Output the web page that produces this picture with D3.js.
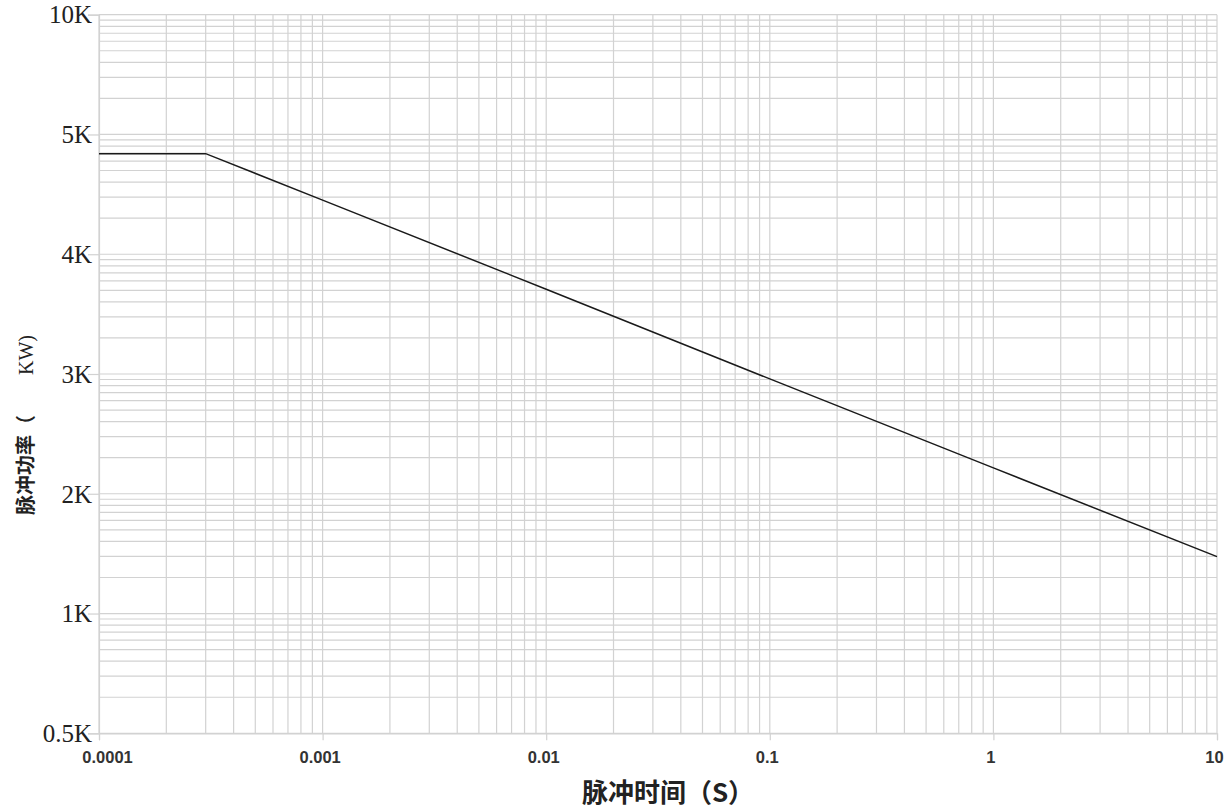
<!DOCTYPE html>
<html><head><meta charset="utf-8">
<script src="https://cdn.jsdelivr.net/npm/d3@7"></script>
<style>
html,body{margin:0;padding:0;background:#fff;}
svg{display:block;}
</style></head>
<body>
<svg id="chart" width="1226" height="808"></svg>
<script>
// Data
const xTicks = [0.0001, 0.001, 0.01, 0.1, 1, 10];
const xTickLabels = ["0.0001", "0.001", "0.01", "0.1", "1", "10"];
const yTicks = [500, 1000, 2000, 3000, 4000, 5000, 10000];
const yTickLabels = ["0.5K", "1K", "2K", "3K", "4K", "5K", "10K"];
const pulseTime = [0.0001, 0.0003, 0.001, 0.01, 0.1, 1, 10];
const pulsePower = [4840, 4840, 4452, 3708, 2959, 2216, 1475];
const xTitle = "脉冲时间（S）";
const yTitleCJK = "脉冲功率（　　";
const yTitleUnit = "KW)";

(function () {
const svg = d3.select("#chart");
const mLeft = 99, mRight = 1217, mTop = 14.7, mBottom = 733.3;

const x = d3.scaleLog().domain([0.0001, 10]).range([mLeft, mRight]);
const bandH = (mBottom - mTop) / (yTicks.length - 1);
const y = d3.scaleLinear().domain(yTicks).range(yTicks.map((d, i) => mBottom - i * bandH));

const gridColor = "#d2d2d2";
const g = svg.append("g");

// x minor + major gridlines
const xGrid = [];
for (let e = -4; e < 1; e++) for (let k = 1; k <= 9; k++) xGrid.push(k * Math.pow(10, e));
xGrid.push(10);
g.selectAll("line.xg").data(xGrid).join("line")
  .attr("x1", d => x(d)).attr("x2", d => x(d))
  .attr("y1", mTop).attr("y2", mBottom)
  .attr("stroke", gridColor).attr("stroke-width", 1.2);

// y gridlines: each band subdivided like a log decade
const yGrid = [];
for (let i = 0; i < yTicks.length - 1; i++) {
  const v0 = yTicks[i], v1 = yTicks[i + 1];
  yGrid.push(v0);
  for (let k = 2; k <= 9; k++) yGrid.push(v0 + Math.log10(k) * (v1 - v0));
}
yGrid.push(yTicks[yTicks.length - 1]);
g.selectAll("line.yg").data(yGrid).join("line")
  .attr("x1", mLeft).attr("x2", mRight)
  .attr("y1", d => y(d)).attr("y2", d => y(d))
  .attr("stroke", gridColor).attr("stroke-width", 1.2);

// axes
const xAxis = d3.axisBottom(x).tickValues(xTicks).tickSize(7).tickFormat((d, i) => xTickLabels[i]).tickPadding(11);
const xa = svg.append("g").attr("transform", `translate(0,${mBottom})`).call(xAxis);
xa.select(".domain").attr("stroke", gridColor).attr("stroke-width", 1.2);
xa.selectAll(".tick line").attr("stroke", gridColor).attr("stroke-width", 1.2);
xa.selectAll(".tick text")
  .attr("font-family", "'Liberation Sans', Arial, sans-serif")
  .attr("font-weight", "bold").attr("font-size", 16.5).attr("fill", "#333")
  .attr("dx", (d, i) => i === 0 ? 8 : -3);

const yAxis = d3.axisLeft(y).tickValues(yTicks).tickSize(11).tickFormat((d, i) => yTickLabels[i]).tickPadding(-4);
const ya = svg.append("g").attr("transform", `translate(${mLeft},0)`).call(yAxis);
ya.select(".domain").attr("stroke", gridColor).attr("stroke-width", 1.2);
ya.selectAll(".tick line").attr("stroke", gridColor).attr("stroke-width", 1.2);
ya.selectAll(".tick text")
  .attr("font-family", "'Liberation Serif', 'Times New Roman', serif")
  .attr("font-size", 25).attr("fill", "#222").attr("dy", "0.33em");

// line
const line = d3.line().x((d, i) => x(pulseTime[i])).y(d => y(d));
svg.append("path").datum(pulsePower)
  .attr("d", line).attr("fill", "none")
  .attr("stroke", "#1a1a1a").attr("stroke-width", 1.5);

// titles
svg.append("text").attr("x", 668).attr("y", 802)
  .attr("text-anchor", "middle")
  .attr("font-family", "'Noto Sans CJK SC', sans-serif").attr("font-weight", "bold")
  .attr("font-size", 26).attr("fill", "#222").text(xTitle);

const yt = svg.append("text")
  .attr("transform", "translate(33,425) rotate(-90)")
  .attr("text-anchor", "middle")
  .attr("font-size", 20).attr("fill", "#222");
yt.append("tspan").attr("font-family", "'Noto Sans CJK SC', sans-serif").attr("font-weight", "bold").text(yTitleCJK);
yt.append("tspan").attr("font-family", "'Liberation Serif', serif").text(yTitleUnit);
})();
</script>
</body></html>
